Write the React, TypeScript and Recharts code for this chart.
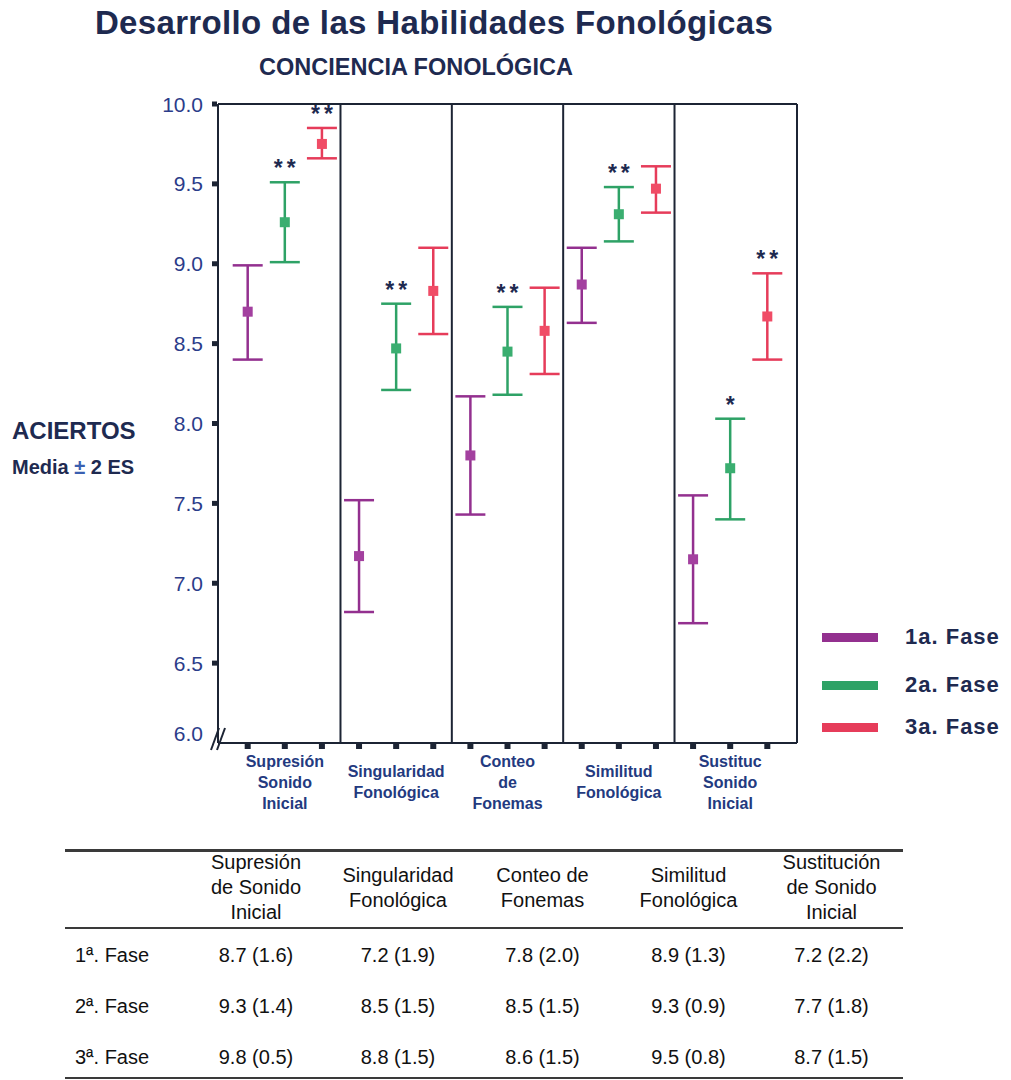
import React from 'react';
import { ScatterChart, Scatter, XAxis, YAxis, ErrorBar, ReferenceLine } from 'recharts';

const phaseNames = ['1a. Fase', '2a. Fase', '3a. Fase'];
const phaseColors = ['#93308f', '#2ea266', '#e63c5a'];
const markerColors = ['#a3409f', '#3aae70', '#f04c66'];

const axisLabels = [
  ['Supresión', 'Sonido', 'Inicial'],
  ['Singularidad', 'Fonológica'],
  ['Conteo', 'de', 'Fonemas'],
  ['Similitud', 'Fonológica'],
  ['Sustituc', 'Sonido', 'Inicial'],
];
const yTicks = [6, 6.5, 7, 7.5, 8, 8.5, 9, 9.5, 10];
const xTicks = [0, 1, 2, 3, 4, 5, 6, 7, 8, 9, 10, 11, 12, 13, 14];
const panelEdges = [2.5, 5.5, 8.5, 11.5];

// media y límites (media ± 2 ES)
const fase1Mean = [8.7, 7.17, 7.8, 8.87, 7.15];
const fase1Low = [8.4, 6.82, 7.43, 8.63, 6.75];
const fase1High = [8.99, 7.52, 8.17, 9.1, 7.55];
const fase2Mean = [9.26, 8.47, 8.45, 9.31, 7.72];
const fase2Low = [9.01, 8.21, 8.18, 9.14, 7.4];
const fase2High = [9.51, 8.75, 8.73, 9.48, 8.03];
const fase3Mean = [9.75, 8.83, 8.58, 9.47, 8.67];
const fase3Low = [9.66, 8.56, 8.31, 9.32, 8.4];
const fase3High = [9.85, 9.1, 8.85, 9.61, 8.94];
const fase1Sig = ['', '', '', '', ''];
const fase2Sig = ['**', '**', '**', '**', '*'];
const fase3Sig = ['**', '', '', '', '**'];

// tabla
const tableHeaders = [
  ['Supresión', 'de Sonido', 'Inicial'],
  ['Singularidad', 'Fonológica'],
  ['Conteo de', 'Fonemas'],
  ['Similitud', 'Fonológica'],
  ['Sustitución', 'de Sonido', 'Inicial'],
];
const rowLabels = ['1ª. Fase', '2ª. Fase', '3ª. Fase'];
const tabMean1 = [8.7, 7.2, 7.8, 8.9, 7.2];
const tabSd1 = [1.6, 1.9, 2.0, 1.3, 2.2];
const tabMean2 = [9.3, 8.5, 8.5, 9.3, 7.7];
const tabSd2 = [1.4, 1.5, 1.5, 0.9, 1.8];
const tabMean3 = [9.8, 8.8, 8.6, 9.5, 8.7];
const tabSd3 = [0.5, 1.5, 1.5, 0.8, 1.5];

const FONT = "'Liberation Sans', Arial, sans-serif";
const NAVY = '#1e2a50';
const AXIS = '#1c2434';

const buildPoints = (phase: number, mean: number[], low: number[], high: number[], sig: string[]) =>
  mean.map((m, i) => ({ x: i * 3 + phase, y: m, err: [m - low[i], high[i] - m], sig: sig[i], top: high[i] }));

const series = [
  buildPoints(0, fase1Mean, fase1Low, fase1High, fase1Sig),
  buildPoints(1, fase2Mean, fase2Low, fase2High, fase2Sig),
  buildPoints(2, fase3Mean, fase3Low, fase3High, fase3Sig),
];
const sigPoints = series.flat().filter((p) => p.sig !== '').map((p) => ({ x: p.x, y: p.top, sig: p.sig }));

const XTick = (props: any) => {
  const { x, y, payload } = props;
  const i = payload.value;
  const lines = i % 3 === 1 ? axisLabels[(i - 1) / 3] : [];
  const startY = y + 39 - (lines.length - 1) * 10.5;
  return (
    <g>
      <rect x={x - 3} y={y + 1} width={6} height={5} fill={AXIS} />
      {lines.map((t, k) => (
        <text key={k} x={x} y={startY + k * 21} textAnchor="middle" dominantBaseline="central"
          fontFamily={FONT} fontWeight="bold" fontSize={16} fill="#233a80">{t}</text>
      ))}
    </g>
  );
};

const YTick = (props: any) => {
  const { x, y, payload } = props;
  const v = payload.value;
  const isBottom = v === 6;
  return (
    <g>
      {!isBottom && <rect x={x - 6} y={y - 2.5} width={5} height={5} fill={AXIS} />}
      <text x={x - 15} y={isBottom ? y - 10 : y} textAnchor="end" dominantBaseline="central"
        fontFamily={FONT} fontSize={21} fill="#2b3c8a">{v.toFixed(1)}</text>
      {isBottom && (
        <g stroke={AXIS} strokeWidth={2}>
          <line x1={x - 7} y1={y + 7} x2={x + 1} y2={y - 15} />
          <line x1={x - 1} y1={y + 7} x2={x + 7} y2={y - 15} />
        </g>
      )}
    </g>
  );
};

const square = (color: string) => (p: any) => (
  <rect x={p.cx - 5} y={p.cy - 5} width={10} height={10} fill={color} />
);

const SigMark = (p: any) => (
  <text x={p.cx + 2} y={p.cy - 6} textAnchor="middle" fontFamily={FONT} fontWeight="bold"
    fontSize={23} letterSpacing={4} fill={NAVY}>{p.payload.sig}</text>
);

const tableRows = [
  tabMean1.map((m, i) => `${m.toFixed(1)} (${tabSd1[i].toFixed(1)})`),
  tabMean2.map((m, i) => `${m.toFixed(1)} (${tabSd2[i].toFixed(1)})`),
  tabMean3.map((m, i) => `${m.toFixed(1)} (${tabSd3[i].toFixed(1)})`),
];
const colWidths = [120, 142, 142, 147, 145, 141];

const Rule = ({ top, h }: { top: number; h: number }) => (
  <div style={{ position: 'absolute', left: 65, top, width: 838, height: h, background: '#3a3a3a' }} />
);

export default function App() {
  return (
    <div style={{ position: 'absolute', left: 0, top: 0, width: 1011, height: 1080, background: '#fff', fontFamily: FONT, overflow: 'hidden' }}>
      <div style={{ position: 'absolute', left: 0, width: 868, top: 4, textAlign: 'center', fontSize: 33, fontWeight: 'bold', color: NAVY, letterSpacing: 0.35, lineHeight: '38px' }}>
        Desarrollo de las Habilidades Fonológicas
      </div>
      <div style={{ position: 'absolute', left: 0, width: 832, top: 53, textAlign: 'center', fontSize: 23.5, fontWeight: 'bold', color: NAVY, lineHeight: '28px' }}>
        CONCIENCIA FONOLÓGICA
      </div>
      <div style={{ position: 'absolute', left: 12, top: 417, fontSize: 24, fontWeight: 'bold', color: NAVY, lineHeight: '28px' }}>
        ACIERTOS
      </div>
      <div style={{ position: 'absolute', left: 12, top: 453, fontSize: 20, fontWeight: 'bold', color: NAVY, lineHeight: '28px' }}>
        Media <span style={{ color: '#3a5fb0' }}>±</span> 2 ES
      </div>

      <div style={{ position: 'absolute', left: 0, top: 0 }}>
        <ScatterChart width={1011} height={840} margin={{ top: 104, right: 214, bottom: 67, left: 158 }}>
          <XAxis type="number" dataKey="x" domain={[-0.8, 14.8]} ticks={xTicks} interval={0}
            tick={<XTick />} tickLine={false} tickSize={0} tickMargin={0} height={30}
            axisLine={{ stroke: AXIS, strokeWidth: 2 }} allowDataOverflow />
          <YAxis type="number" dataKey="y" domain={[6, 10]} ticks={yTicks} interval={0}
            tick={<YTick />} tickLine={false} tickSize={0} tickMargin={0} width={60}
            axisLine={{ stroke: AXIS, strokeWidth: 2 }} allowDataOverflow />
          <ReferenceLine y={10} stroke={AXIS} strokeWidth={2} />
          <ReferenceLine x={14.8} stroke={AXIS} strokeWidth={2} />
          {panelEdges.map((e) => (
            <ReferenceLine key={e} x={e} stroke={AXIS} strokeWidth={2} />
          ))}
          {series.map((pts, k) => (
            <Scatter key={k} name={phaseNames[k]} data={pts} shape={square(markerColors[k])} isAnimationActive={false}>
              <ErrorBar dataKey="err" direction="y" width={15} strokeWidth={2.5} stroke={phaseColors[k]} />
            </Scatter>
          ))}
          <Scatter data={sigPoints} shape={SigMark} isAnimationActive={false} />
        </ScatterChart>
      </div>

      {phaseNames.map((n, k) => (
        <div key={n} style={{ position: 'absolute', left: 822, top: [637, 685, 727][k] - 14, height: 28, display: 'flex', alignItems: 'center' }}>
          <div style={{ width: 56, height: 9, background: phaseColors[k] }} />
          <div style={{ marginLeft: 27, fontSize: 22, fontWeight: 'bold', color: NAVY, letterSpacing: 1 }}>{n}</div>
        </div>
      ))}

      <Rule top={849} h={3} />
      <Rule top={927} h={2} />
      <Rule top={1077} h={2} />
      <div style={{ position: 'absolute', left: 65, top: 850, height: 75, display: 'flex', color: '#111' }}>
        <div style={{ width: colWidths[0] }} />
        {tableHeaders.map((h, i) => (
          <div key={i} style={{ width: colWidths[i + 1], display: 'flex', flexDirection: 'column', justifyContent: 'center', alignItems: 'center', fontSize: 20, lineHeight: '25px' }}>
            {h.map((l) => <div key={l}>{l}</div>)}
          </div>
        ))}
      </div>
      {tableRows.map((row, r) => (
        <div key={r} style={{ position: 'absolute', left: 65, top: 930 + r * 51, height: 51, display: 'flex', alignItems: 'center', fontSize: 20, color: '#111' }}>
          <div style={{ width: colWidths[0] - 10, paddingLeft: 10 }}>{rowLabels[r]}</div>
          {row.map((c, i) => (
            <div key={i} style={{ width: colWidths[i + 1], textAlign: 'center' }}>{c}</div>
          ))}
        </div>
      ))}
    </div>
  );
}
